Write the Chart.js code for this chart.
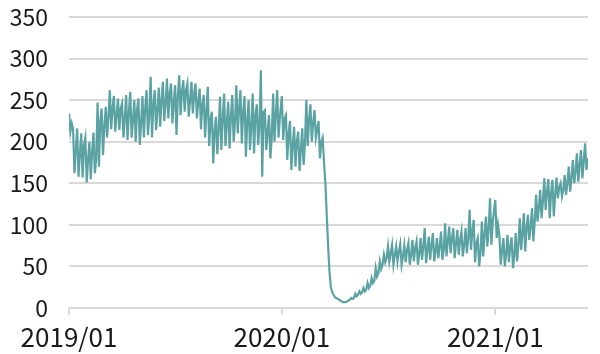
<!DOCTYPE html>
<html>
<head>
<meta charset="utf-8">
<script src="https://cdn.jsdelivr.net/npm/chart.js@4.4.1/dist/chart.umd.min.js"></script>
<style>
    html, body { margin: 0; padding: 0; background: #fff; }
    canvas { display: block; }
</style>
</head>
<body>
<canvas id="trendChart" width="600" height="354"></canvas>
<script>
// tick labels for the x axis and the day each year starts (days since 2019/01/01)
const tickLabels = ['2019/01', '2020/01', '2021/01'];
const yearStartDay = [0, 365, 731];
// values, three samples a week (high / low / middle)
const DAYS_PER_POINT = 7 / 3;

const values2019 = [
    234, 212, 222,  215, 162, 190,  216, 158, 185,  210, 157, 196,  205, 151, 178,
    200, 155, 188,  211, 162, 180,  247, 170, 225,  240, 184, 218,  242, 205, 230,
    262, 215, 240,  255, 212, 232,  252, 214, 240,  246, 205, 228,  256, 202, 235,
    260, 205, 226,  250, 200, 238,  252, 196, 222,  255, 205, 240,  262, 208, 232,
    278, 205, 245,  262, 214, 238,  265, 218, 250,  272, 225, 246,  276, 228, 258,
    270, 222, 248,  268, 208, 255,  280, 232, 260,  274, 236, 262,  270, 230, 250,
    272, 234, 258,  270, 228, 248,  264, 215, 245,  256, 205, 236,  266, 195, 226,
    236, 174, 212,  230, 185, 215,  254, 190, 228,  258, 195, 222,  248, 192, 230,
    256, 200, 224,  268, 210, 240,  262, 198, 236,  255, 182, 225,  250, 190, 218,
    258, 186, 232,  245, 196, 220,  286, 158, 236,  238, 190, 212,  232, 180, 205,
    258, 200, 232,  262, 205, 230
];

const values2020 = [
    255, 202, 228,  232, 178, 210,  225, 166, 195,  218, 170, 200,  212, 165, 190,
    216, 172, 198,  250, 195, 226,  245, 200, 222,  238, 205, 215,  225, 180, 200,
    205, 175, 150,  112, 75, 44,    25, 19, 16,     13, 12, 11,     10, 9, 8,
    7, 7, 7,        8, 9, 10,       12, 11, 12,     17, 14, 16,     20, 17, 19,
    24, 20, 22,     30, 24, 27,     36, 30, 33,     48, 38, 42,     56, 47, 52,
    64, 55, 60,     74, 56, 66,     76, 52, 64,     74, 56, 68,     77, 52, 62,
    75, 55, 70,     78, 52, 64,     82, 56, 72,     80, 52, 66,     84, 58, 74,
    96, 54, 70,     86, 58, 76,     90, 56, 68,     84, 60, 74,     92, 58, 70,
    102, 62, 80,    98, 66, 84,     96, 60, 78,     94, 64, 82,     92, 62, 76,
    96, 66, 84,     118, 70, 92,    106, 55, 78,    84, 50, 66,     104, 62, 88,
    110, 74, 95,    132, 76, 104
];

const values2021 = [
    130, 84, 100,   88, 52, 70,     84, 50, 66,     88, 55, 74,     85, 48, 64,
    90, 56, 76,     108, 70, 90,    114, 68, 96,    112, 82, 98,    120, 80, 104,
    136, 104, 120,  142, 108, 128,  156, 118, 140,  155, 108, 138,  154, 110, 136,
    157, 132, 145,  150, 134, 142,  160, 136, 150,  170, 140, 156,  178, 150, 164,
    186, 152, 172,  190, 156, 176,  198, 166, 180
];

const FONT = '"Noto Sans CJK JP", "DejaVu Sans", sans-serif';

// build {x, y} points, x in days since the first label
const points = [];
[values2019, values2020, values2021].forEach((list, j) => {
    list.forEach((v, i) => {
        points.push({ x: yearStartDay[j] + i * DAYS_PER_POINT, y: v });
    });
});

const ctx = document.getElementById('trendChart').getContext('2d');
new Chart(ctx, {
    type: 'line',
    data: {
        datasets: [{
            data: points,
            borderColor: '#5aa3a2',
            borderWidth: 2.2,
            pointRadius: 0,
            tension: 0,
            fill: false
        }]
    },
    options: {
        responsive: false,
        animation: false,
        devicePixelRatio: 1,
        layout: { padding: { top: 17, right: 12, left: 0, bottom: 0 } },
        plugins: {
            legend: { display: false },
            tooltip: { enabled: false }
        },
        scales: {
            x: {
                type: 'linear',
                min: 0,
                max: 890,
                afterBuildTicks: (scale) => {
                    scale.ticks = yearStartDay.map(d => ({ value: d }));
                },
                afterFit: (scale) => { scale.height = 46; },
                grid: {
                    drawOnChartArea: false,
                    drawTicks: true,
                    tickLength: 7,
                    color: '#d9d9d9',
                    lineWidth: 2
                },
                border: { display: false },
                ticks: {
                    autoSkip: false,
                    maxRotation: 0,
                    padding: 7,
                    color: '#1a1a1a',
                    font: { family: FONT, size: 26 },
                    callback: (value) => {
                        const idx = yearStartDay.indexOf(value);
                        return idx >= 0 ? tickLabels[idx] : '';
                    }
                }
            },
            y: {
                min: 0,
                max: 350,
                afterFit: (scale) => { scale.width = 69; },
                grid: {
                    drawTicks: true,
                    tickLength: 21,
                    tickColor: 'rgba(0,0,0,0)',
                    color: '#d9d9d9',
                    lineWidth: 2
                },
                border: { display: false },
                ticks: {
                    stepSize: 50,
                    padding: 0,
                    color: '#1a1a1a',
                    font: { family: FONT, size: 23 }
                }
            }
        }
    }
});
</script>
</body>
</html>
